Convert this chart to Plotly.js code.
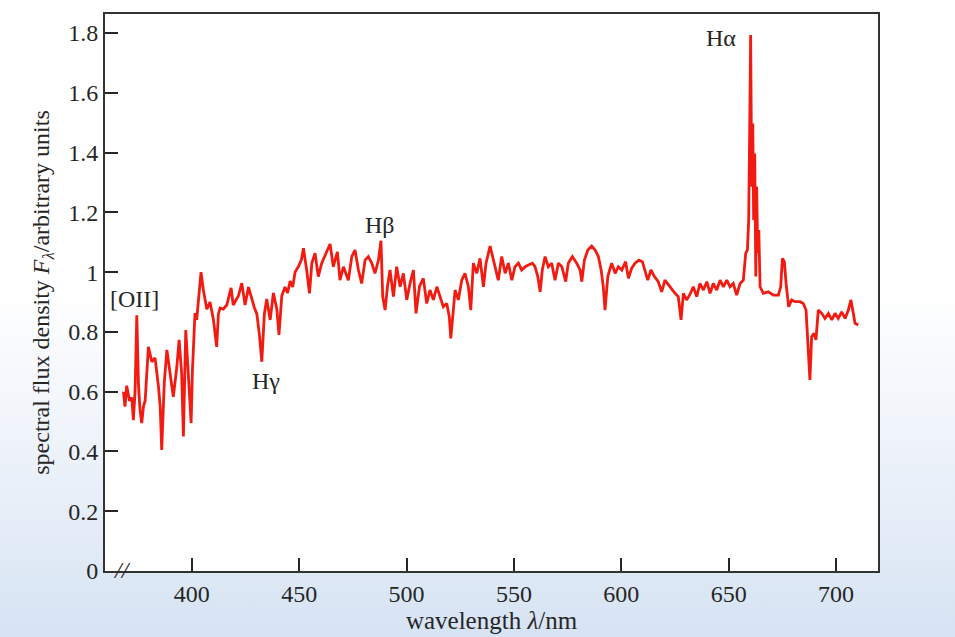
<!DOCTYPE html>
<html>
<head>
<meta charset="utf-8">
<script src="https://cdn.plot.ly/plotly-3.0.1.min.js"></script>
<style>
html,body{margin:0;padding:0;}
body{width:955px;height:637px;overflow:hidden;
background:linear-gradient(to bottom,#ffffff 0%,#ffffff 45%,#eef3fa 70%,#d6e3f3 100%);}
#chart{width:955px;height:637px;}
</style>
</head>
<body>
<div id="chart"></div>
<script>
// wavelength in nm
const wavelength = [
368.2,368.9,369.7,371.0,372.1,372.8,373.6,374.4,375.2,375.9,376.7,377.5,378.3,379.8,381.4,382.9,384.5,385.3,386.0,387.2,
388.4,389.9,391.4,393.0,394.1,395.3,396.1,397.2,398.4,399.2,399.7,400.3,401.5,402.3,403.1,404.3,405.4,406.2,407.0,408.5,
410.1,411.6,412.4,413.2,414.7,416.3,418.3,419.3,420.2,421.7,423.3,424.8,426.4,427.9,429.2,430.3,431.5,432.6,433.8,434.9,
436.5,438.0,439.6,440.6,441.9,443.4,444.6,445.8,447.0,448.1,449.6,451.0,
452.0,453.5,454.8,455.9,457.4,458.9,460.5,462.5,464.4,465.9,467.8,469.0,470.6,472.9,474.5,476.0,477.6,479.1,480.7,482.2,
483.8,485.3,486.9,488.1,488.9,490.0,491.1,492.3,493.9,495.4,497.0,498.5,500.1,501.6,503.2,504.4,506.0,507.8,509.4,510.9,
512.5,514.1,515.6,517.1,518.7,519.9,520.6,521.8,522.6,524.1,525.7,527.2,528.8,529.9,531.1,532.7,534.2,535.8,537.0,538.9,
540.4,542.7,544.3,545.9,547.4,549.0,550.5,552.1,553.6,555.2,556.7,558.6,559.8,561.1,562.2,563.2,564.5,566.0,567.6,569.1,
570.7,572.3,574.1,575.3,577.2,579.2,580.8,581.6,582.8,584.4,586.2,587.8,589.3,590.6,591.6,592.4,593.7,595.5,597.1,598.6,
600.2,602.0,603.3,604.8,606.4,608.2,609.8,611.0,612.3,613.8,615.4,617.2,618.8,620.3,621.9,623.5,625.0,626.5,627.8,628.9,
630.4,632.0,633.5,635.1,636.6,638.2,639.8,641.3,642.8,644.4,646.0,647.5,649.1,650.6,652.1,653.7,655.3,656.8,657.9,658.7,
659.3,659.8,660.2,660.7,661.2,661.6,662.1,662.6,663.0,663.5,664.0,664.6,666.1,668.4,670.8,673.1,674.2,675.0,675.9,676.7,
677.3,677.9,679.3,680.9,683.2,684.7,686.0,686.6,687.4,687.8,688.6,689.7,690.6,691.7,693.3,694.8,696.4,698.0,699.5,701.0,
702.6,704.2,705.7,706.9,708.0,708.8,710.3
];
// spectral flux density (arbitrary units)
const flux = [
0.60,0.55,0.62,0.57,0.58,0.505,0.60,0.856,0.62,0.539,0.495,0.55,0.57,0.75,0.70,0.713,0.617,0.55,0.405,0.63,
0.74,0.66,0.583,0.68,0.773,0.66,0.45,0.806,0.64,0.52,0.495,0.67,0.863,0.84,0.897,1.0,0.94,0.91,0.876,0.90,
0.84,0.75,0.86,0.88,0.876,0.89,0.947,0.89,0.90,0.92,0.963,0.89,0.95,0.91,0.88,0.86,0.79,0.70,0.86,0.91,
0.84,0.93,0.876,0.79,0.92,0.95,0.93,0.97,0.95,1.0,1.018,1.04,
1.08,1.007,0.929,1.03,1.063,0.985,1.03,1.063,1.094,1.018,1.068,0.973,1.018,0.973,1.052,1.074,1.007,0.962,1.04,1.052,
1.03,0.996,1.04,1.105,0.918,0.873,0.951,1.007,0.918,1.018,0.951,0.996,0.907,0.962,1.007,0.862,0.951,0.979,0.895,0.94,
0.907,0.951,0.918,0.884,0.895,0.851,0.778,0.873,0.94,0.907,0.973,0.996,0.951,0.873,1.03,0.996,1.046,0.951,1.03,1.087,
1.04,0.973,1.052,0.996,1.03,0.973,1.018,1.03,1.007,1.018,1.024,1.03,1.018,0.985,0.934,1.007,1.052,1.018,1.03,0.973,
1.03,1.018,0.968,1.03,1.052,1.03,1.007,0.968,1.04,1.074,1.087,1.074,1.052,1.007,0.951,0.873,0.985,1.03,0.996,1.018,
1.007,1.035,0.979,1.013,1.03,1.04,1.035,1.007,0.973,1.007,0.985,0.968,0.934,0.973,0.957,0.94,0.929,0.918,0.84,0.929,
0.907,0.926,0.951,0.918,0.962,0.94,0.968,0.929,0.962,0.94,0.973,0.951,0.973,0.951,0.962,0.923,0.962,0.973,1.063,1.074,
1.174,1.509,1.793,1.286,1.497,1.174,1.397,0.985,1.286,1.063,1.141,0.951,0.929,0.934,0.923,0.923,0.951,1.046,1.035,0.962,
0.929,0.884,0.907,0.901,0.901,0.895,0.873,0.795,0.728,0.639,0.784,0.795,0.773,0.873,0.862,0.845,0.862,0.84,0.862,0.845,
0.867,0.845,0.873,0.907,0.862,0.829,0.823
];
const xTickVals = [400,450,500,550,600,650,700];
const xTickText = ["400","450","500","550","600","650","700"];
const yTickVals = [0,0.2,0.4,0.6,0.8,1,1.2,1.4,1.6,1.8];
const yTickText = ["0","0.2","0.4","0.6","0.8","1","1.2","1.4","1.6","1.8"];
const lineLabels = ["[OII]","Hγ","Hβ","Hα"];
const labelX = [373.1,434.6,487.7,646.4];
const labelY = [0.91,0.636,1.158,1.783];

const serif = "Liberation Serif, Times New Roman, serif";
const ink = "#262626";

const trace = {
  x: wavelength, y: flux, type: "scatter", mode: "lines",
  line: {color: "#f21b12", width: 2.8},
  hoverinfo: "skip", showlegend: false
};

const annotations = lineLabels.map((t,i)=>({
  x: labelX[i], y: labelY[i], xref: "x", yref: "y", text: t,
  showarrow: false, font: {family: serif, size: 24, color: ink}
}));
annotations.push({
  x: 0.022, y: 0, xref: "paper", yref: "paper", xanchor: "center", yanchor: "middle",
  text: "<i>//</i>", yshift: 1,
  showarrow: false, font: {family: serif, size: 24, color: ink}
});

const layout = {
  width: 955, height: 637,
  margin: {l: 105, r: 77, t: 14, b: 66},
  paper_bgcolor: "rgba(0,0,0,0)",
  plot_bgcolor: "#ffffff",
  xaxis: {
    range: [359.6, 719.5], tickvals: xTickVals, ticktext: xTickText,
    ticks: "inside", ticklen: 13, tickwidth: 2, tickcolor: ink,
    showline: true, linecolor: "#333333", linewidth: 2, mirror: true,
    showgrid: false, zeroline: false,
    tickfont: {family: serif, size: 24, color: ink},
    title: {text: "wavelength <i>λ</i>/nm", font: {family: serif, size: 25, color: ink}, standoff: 2}
  },
  yaxis: {
    range: [0, 1.8636], tickvals: yTickVals, ticktext: yTickText,
    ticks: "inside", ticklen: 13, tickwidth: 2, tickcolor: ink,
    showline: true, linecolor: "#333333", linewidth: 2, mirror: true,
    showgrid: false, zeroline: false,
    tickfont: {family: serif, size: 24, color: ink},
    title: {text: "spectral flux density <i>F</i><sub><i>λ</i></sub>/arbitrary units", font: {family: serif, size: 24, color: ink}, standoff: 12}
  },
  annotations: annotations
};

Plotly.newPlot("chart", [trace], layout, {displayModeBar: false, staticPlot: true});
</script>
</body>
</html>
